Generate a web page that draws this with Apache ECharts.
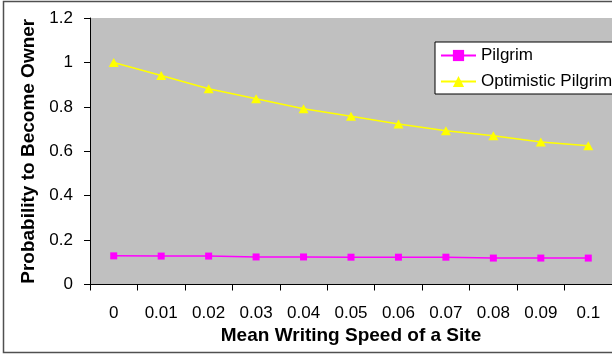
<!DOCTYPE html>
<html>
<head>
<meta charset="utf-8">
<script src="https://cdn.jsdelivr.net/npm/echarts@6/dist/echarts.min.js"></script>
<style>
  html, body { margin: 0; padding: 0; background: #fff; }
  #chart { width: 612px; height: 356px; }
</style>
</head>
<body>
<div id="chart"></div>
<script>
// Mean writing speed of a site (category axis)
const speeds = ['0', '0.01', '0.02', '0.03', '0.04', '0.05', '0.06', '0.07', '0.08', '0.09', '0.1'];
// Probability to become owner for each strategy
const pilgrim = [0.129, 0.128, 0.128, 0.124, 0.124, 0.123, 0.123, 0.123, 0.119, 0.119, 0.119];
const optimisticPilgrim = [1.0, 0.941, 0.881, 0.836, 0.791, 0.758, 0.723, 0.692, 0.670, 0.642, 0.625];
// Value axis ticks
const yTicks = { min: 0, max: 1.2, interval: 0.2 };

const FONT = '"Liberation Sans", Arial, sans-serif';
const chart = echarts.init(document.getElementById('chart'), null, { renderer: 'canvas' });

chart.setOption({
  animation: false,
  backgroundColor: '#ffffff',
  grid: {
    show: true,
    left: 90,
    top: 18,
    width: 528,
    height: 266.5,
    backgroundColor: '#c0c0c0',
    borderWidth: 0,
    containLabel: false
  },
  graphic: [{
    type: 'rect',
    shape: { x: 3.5, y: 1.5, width: 640, height: 351 },
    style: { fill: 'none', stroke: '#505050', lineWidth: 1.5 },
    silent: true,
    z: 100
  }],
  legend: {
    left: 435,
    top: 42,
    orient: 'vertical',
    backgroundColor: '#ffffff',
    borderColor: '#000000',
    borderWidth: 1,
    padding: [5, 60, 4, 5],
    itemGap: 9,
    itemWidth: 35,
    itemHeight: 14,
    textStyle: { fontFamily: FONT, fontSize: 17, color: '#000' },
    data: ['Pilgrim', 'Optimistic Pilgrim']
  },
  xAxis: {
    type: 'category',
    data: speeds,
    boundaryGap: true,
    name: 'Mean Writing Speed of a Site',
    nameLocation: 'middle',
    nameGap: 42,
    nameTextStyle: { fontFamily: FONT, fontSize: 19, fontWeight: 'bold', color: '#000' },
    axisLine: { show: true, lineStyle: { color: '#000', width: 1 } },
    axisTick: { show: true, inside: false, length: 6, alignWithLabel: false, lineStyle: { color: '#000' } },
    axisLabel: { fontFamily: FONT, fontSize: 17, color: '#000', margin: 20, interval: 0 },
    splitLine: { show: false }
  },
  yAxis: {
    type: 'value',
    min: yTicks.min,
    max: yTicks.max,
    interval: yTicks.interval,
    name: 'Probability to Become Owner',
    nameLocation: 'middle',
    nameGap: 52,
    nameTextStyle: { fontFamily: FONT, fontSize: 19, fontWeight: 'bold', color: '#000' },
    axisLine: { show: true, lineStyle: { color: '#000', width: 1 } },
    axisTick: { show: true, inside: false, length: 6, lineStyle: { color: '#000' } },
    axisLabel: { fontFamily: FONT, fontSize: 17, color: '#000', margin: 17 },
    splitLine: { show: false }
  },
  series: [
    {
      name: 'Pilgrim',
      type: 'line',
      data: pilgrim,
      symbol: 'rect',
      symbolSize: 7,
      color: '#ff00ff',
      lineStyle: { color: '#ff00ff', width: 1.5 },
      itemStyle: { color: '#ff00ff', borderWidth: 0 }
    },
    {
      name: 'Optimistic Pilgrim',
      type: 'line',
      data: optimisticPilgrim,
      symbol: 'triangle',
      symbolSize: [10, 9],
      color: '#ffff00',
      lineStyle: { color: '#ffff00', width: 1.5 },
      itemStyle: { color: '#ffff00', borderWidth: 0 }
    }
  ]
});
</script>
</body>
</html>
